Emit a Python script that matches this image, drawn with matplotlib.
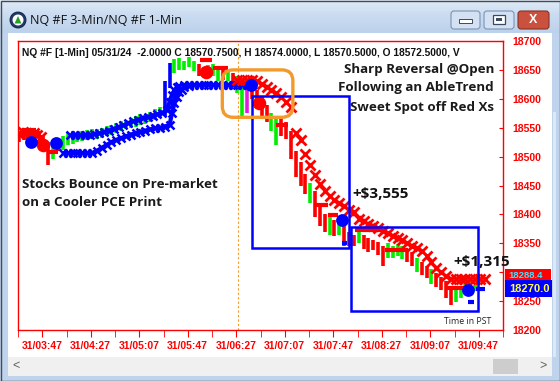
import matplotlib
matplotlib.use("Agg")
import matplotlib.pyplot as plt
import numpy as np
from matplotlib.patches import Rectangle, FancyBboxPatch, Circle, Polygon
from matplotlib.colors import LinearSegmentedColormap

plt.rcParams['font.family'] = ['Liberation Sans', 'DejaVu Sans']

# ---------------- data (minutes after midnight, prices) ----------------
bar_time = list(range(208, 588, 4))
bar_high = [18540, 18545, 18542, 18540, 18545, 18538, 18525, 18520, 18530,
            18535, 18540, 18545, 18542, 18545, 18546, 18547, 18548, 18550, 18553,
            18555, 18558, 18561, 18564, 18567, 18570, 18573, 18572, 18578, 18582,
            18586, 18630, 18662, 18668, 18670, 18665, 18672, 18665, 18660, 18655,
            18658, 18660, 18655, 18650, 18648, 18645, 18640, 18625, 18620, 18625,
            18615, 18605, 18590, 18575, 18570, 18570, 18560, 18545, 18510, 18490,
            18470, 18455, 18440, 18420, 18400, 18395, 18390, 18392, 18385, 18370,
            18365, 18375, 18365, 18360, 18355, 18352, 18345, 18350, 18345, 18348,
            18345, 18340, 18335, 18325, 18318, 18310, 18305, 18298, 18292, 18285,
            18275, 18270, 18272, 18280, 18282, 18278]
bar_low = [18525, 18528, 18520, 18525, 18530, 18510, 18485, 18495, 18510,
           18512, 18520, 18522, 18525, 18527, 18528, 18530, 18531, 18533, 18535,
           18538, 18541, 18544, 18547, 18550, 18552, 18555, 18557, 18560, 18563,
           18567, 18570, 18618, 18645, 18650, 18650, 18655, 18648, 18640, 18638,
           18642, 18640, 18630, 18632, 18630, 18628, 18610, 18570, 18575, 18600,
           18585, 18565, 18560, 18545, 18520, 18535, 18530, 18495, 18465, 18450,
           18435, 18420, 18395, 18380, 18370, 18365, 18362, 18365, 18345, 18345,
           18345, 18350, 18340, 18335, 18338, 18330, 18310, 18325, 18325, 18328,
           18322, 18318, 18310, 18300, 18295, 18290, 18280, 18275, 18270, 18255,
           18243, 18248, 18255, 18262, 18265, 18268]
bar_code = ['r', 'r', 'g', 'r', 'r', 'r', 'r', 'g', 'r',
            'g', 'g', 'g', 'g', 'g', 'g', 'g', 'g', 'g', 'g',
            'g', 'g', 'g', 'g', 'g', 'g', 'g', 'g', 'g', 'g',
            'g', 'b', 'b', 'g', 'g', 'g', 'g', 'g', 'r', 'r',
            'g', 'g', 'g', 'r', 'g', 'r', 'g', 'g', 'm', 'r',
            'r', 'r', 'r', 'g', 'g', 'r', 'r', 'r', 'r', 'r',
            'r', 'g', 'r', 'r', 'r', 'g', 'r', 'g', 'r', 'r',
            'r', 'g', 'r', 'r', 'r', 'r', 'r', 'g', 'g', 'g',
            'g', 'r', 'r', 'g', 'r', 'r', 'g', 'r', 'r', 'r',
            'r', 'g', 'g', 'g', 'r', 'g']

# AbleTrend blue stops (uptrend)
blue_a_time = [250, 254, 258, 262, 266, 270, 274, 278, 282, 286, 290, 294, 298,
               302, 306, 310, 314, 318, 322, 326, 330, 332, 334, 336, 338, 340]
blue_a_price = [18537, 18537, 18537, 18537, 18537, 18539, 18540, 18543, 18545,
                18548, 18551, 18554, 18558, 18561, 18564, 18567, 18569, 18571,
                18573, 18576, 18580, 18595, 18607, 18615, 18620, 18623]
blue_b_time = [244, 248, 252, 256, 260, 264, 268, 272, 276, 280, 284, 288, 292,
               296, 300, 304, 308, 312, 316, 320, 324, 328, 332, 334, 336, 338,
               340, 342, 344, 348]
blue_b_price = [18506, 18506, 18506, 18506, 18506, 18506, 18506, 18510, 18515,
                18520, 18525, 18529, 18532, 18535, 18538, 18541, 18543, 18545,
                18547, 18549, 18550, 18552, 18555, 18575, 18592, 18603, 18611,
                18616, 18620, 18622]
blue_flat_time = [344, 348, 352, 356, 360, 364, 368, 372, 376, 380, 384, 388,
                  392, 396, 400]
blue_flat_price = [18624, 18624, 18624, 18624, 18624, 18624, 18624, 18624,
                   18624, 18624, 18624, 18624, 18624, 18624, 18624]

# AbleTrend red stops (downtrend)
red_a_time = [208, 211, 214, 217, 220, 223, 226]
red_a_price = [18540, 18543, 18541, 18539, 18541, 18538, 18534]
red_b_time = [388, 392, 396, 400, 404, 408, 412, 416, 420, 424, 428, 432]
red_b_price = [18633, 18633, 18633, 18632, 18630, 18626, 18621, 18616, 18610,
               18603, 18595, 18585]
red_c_time = [436, 440, 444, 448, 452, 456, 460, 464, 468, 472, 476, 480, 484,
              488, 492, 496, 500, 504, 508, 512, 516, 520, 524, 528, 532, 536,
              540, 544, 548, 552, 556, 560, 564, 568, 572, 576, 580, 584, 588, 592]
red_c_price = [18540, 18529, 18505, 18485, 18468, 18452, 18440, 18432, 18425,
               18420, 18414, 18408, 18404, 18392, 18388, 18384, 18380, 18377,
               18372, 18367, 18363, 18360, 18356, 18351, 18346, 18342, 18336,
               18328, 18318, 18308, 18300, 18293, 18289, 18288, 18288, 18288,
               18288, 18288, 18288, 18288]

# red dash stop segments: start, end, price
red_dash_start = [212, 232, 357, 368, 420, 452, 463, 485, 510, 560]
red_dash_end = [222, 240, 367, 380, 430, 463, 471, 507, 529, 575]
red_dash_price = [18546, 18508, 18667, 18653, 18555, 18416, 18399, 18373, 18338, 18272]

red_dot_time = [228, 362, 406]
red_dot_price = [18520, 18646, 18593]
blue_dot_time = [218, 238, 399.5, 474, 578]
blue_dot_price = [18525, 18523, 18624, 18390, 18269]
blue_dash_start = [474, 578, 585]
blue_dash_end = [478, 583, 592]
blue_dash_price = [18350, 18248, 18271]

# trade boxes: (start, end, low, high)
box_start = [400, 482]
box_end = [479.7, 586]
box_low = [18342, 18233]
box_high = [18605, 18378]
box_labels = ['+$3,555', '+$1,315']

focus_start, focus_end, focus_low, focus_high = 375.5, 433.7, 18568, 18650
open_time = 388.6

x_labels = ['31/03:47', '31/04:27', '31/05:07', '31/05:47', '31/06:27',
            '31/07:07', '31/07:47', '31/08:27', '31/09:07', '31/09:47']
y_ticks = [18200, 18250, 18300, 18350, 18400, 18450, 18500, 18550, 18600, 18650, 18700]
y_hidden = [18300]   # label covered by the last-price markers

# ---------------- figure / window chrome ----------------
W, H = 560, 381
fig = plt.figure(figsize=(5.6, 3.81), dpi=100)
fig.patch.set_facecolor('#bfd3ec')

bg = fig.add_axes([0, 0, 1, 1])
bg.set_xlim(0, W); bg.set_ylim(H, 0); bg.axis('off')
cm = LinearSegmentedColormap.from_list('tb', ['#dfeaf7', '#c9dbf0', '#bcd1eb'])
bg.imshow(np.linspace(0, 1, 40).reshape(-1, 1), extent=[0, W, 33, 0],
          cmap=cm, aspect='auto', zorder=0)
bg.add_patch(Rectangle((8, 33), 544, 324, fc='white', ec='none', zorder=1))
bg.add_patch(Rectangle((8, 357), 544, 19, fc='#f0f0f0', ec='none', zorder=1))
bg.add_patch(Rectangle((493, 359), 25, 15, fc='#cdcdcd', ec='none', zorder=2))
bg.add_patch(Rectangle((553, 112), 3, 245, fc='#dde8f5', ec='none', zorder=1))
bg.text(16, 366, '<', ha='center', va='center', fontsize=9, color='#606060', zorder=3)
bg.text(543, 366, '>', ha='center', va='center', fontsize=9, color='#606060', zorder=3)
bg.add_patch(Rectangle((0.5, 0.5), W - 1, H - 1, fc='none', ec='#4a4a4a', lw=1, zorder=4))
# title bar
bg.add_patch(Circle((18, 20), 8, fc='#1e3a6b', ec='#0e1e3a', lw=0.6, zorder=3))
bg.add_patch(Circle((18, 20), 5.5, fc='white', ec='none', zorder=4))
bg.add_patch(Polygon([[14.5, 23.5], [21.5, 23.5], [18, 16]], fc='#2aa02a', ec='none', zorder=5))
bg.text(30, 20, 'NQ #F 3-Min/NQ #F 1-Min', va='center', ha='left', fontsize=9,
        family=['Open Sans', 'DejaVu Sans'], color='#101010', zorder=3)
for x0, x1 in [(451, 480), (484, 514)]:
    bg.add_patch(FancyBboxPatch((x0, 11), x1 - x0, 18, boxstyle='round,pad=0,rounding_size=3',
                                fc='#d3e1f2', ec='#7b93b4', lw=0.8, zorder=3))
bg.add_patch(Rectangle((459, 19), 13, 4, fc='white', ec='#3b4a60', lw=0.7, zorder=4))
bg.add_patch(Rectangle((493, 15), 12, 9, fc='white', ec='#3b4a60', lw=0.9, zorder=4))
bg.add_patch(Rectangle((496, 18), 6, 3, fc='#3b4a60', ec='none', zorder=5))
bg.add_patch(FancyBboxPatch((518, 11), 31, 18, boxstyle='round,pad=0,rounding_size=3',
                            fc='#c9513e', ec='#8a3024', lw=0.8, zorder=3))
bg.text(533.5, 20, 'X', ha='center', va='center', fontsize=9, weight='bold',
        color='white', zorder=4)

# ---------------- chart axes ----------------
ax = fig.add_axes([18 / W, 1 - 330 / H, 485 / W, 289 / H])
ax.set_xlim(207, 605)
ax.set_ylim(18200, 18700)
ax.set_facecolor('white')
for s in ax.spines.values():
    s.set_color('red'); s.set_linewidth(1)

cmap_codes = {'r': '#ff0000', 'g': '#00ee00', 'b': '#0000ff', 'm': '#e020e0'}
ax.vlines(bar_time, bar_low, bar_high, colors=[cmap_codes[c] for c in bar_code],
          linewidth=2.6, zorder=2)

# blue stops
for tt, pp in [(blue_a_time, blue_a_price), (blue_b_time, blue_b_price),
               (blue_flat_time, blue_flat_price)]:
    ax.plot(tt, pp, color='#0000ff', lw=3, zorder=3, solid_capstyle='butt')
    ax.plot(tt, pp, ls='none', marker='x', ms=6.2, mew=1.8, color='#0000ff', zorder=3)
# red stops
for tt, pp in [(red_a_time, red_a_price), (red_b_time, red_b_price),
               (red_c_time, red_c_price)]:
    ax.plot(tt, pp, ls='none', marker='x', ms=7.2, mew=2.0, color='#ff0000', zorder=3)

ax.hlines(red_dash_price, red_dash_start, red_dash_end, colors='#ff0000', lw=3, zorder=3)
ax.hlines(blue_dash_price, blue_dash_start, blue_dash_end, colors='#0000ff', lw=3, zorder=4)
ax.scatter(red_dot_time, red_dot_price, s=95, color='#ff0000', zorder=4, linewidths=0)
ax.scatter(blue_dot_time, blue_dot_price, s=85, color='#0000ff', zorder=5, linewidths=0)

# trade boxes
for b0, b1, lo, hi in zip(box_start, box_end, box_low, box_high):
    ax.add_patch(Rectangle((b0, lo), b1 - b0, hi - lo, fill=False, ec='#0000ff', lw=1.8, zorder=6))
# focus rounded box
ppm = (485 / (605 - 207)) / (289 / 500)
ax.add_patch(FancyBboxPatch((focus_start, focus_low), focus_end - focus_start,
                            focus_high - focus_low,
                            boxstyle='round,pad=0,rounding_size=9', mutation_aspect=ppm,
                            fc='none', ec='#f39a2b', lw=2.4, zorder=6))
ax.axvline(open_time, color='#f39a2b', lw=0.8, ls=(0, (2, 2)), zorder=1)

# ticks
ax.yaxis.tick_right()
ax.set_yticks(y_ticks)
ax.set_yticklabels(['' if v in y_hidden else str(v) for v in y_ticks])
def to_min(lbl):
    h, m = lbl.split('/')[1].split(':')
    return int(h) * 60 + int(m)
xt = [to_min(l) for l in x_labels]
ax.set_xticks(xt)
ax.set_xticklabels(x_labels)
ax.set_xticks([v - 20 for v in xt] + [xt[-1] + 20], minor=True)
ax.tick_params(axis='y', which='both', direction='in', length=3, color='red',
               labelcolor='red', labelsize=7.5, pad=7, right=True, left=False)
ax.tick_params(axis='x', which='both', direction='out', length=5, color='red',
               labelcolor='red', labelsize=7.5, pad=3)
for lbl in ax.get_xticklabels() + ax.get_yticklabels():
    lbl.set_fontweight('bold')

# ---------------- overlay texts ----------------
ov = fig.add_axes([0, 0, 1, 1])
ov.set_xlim(0, W); ov.set_ylim(H, 0); ov.axis('off'); ov.patch.set_alpha(0)
ann = ['Open Sans', 'DejaVu Sans']
ov.text(22, 53, 'NQ #F [1-Min] 05/31/24  -2.0000 C 18570.7500, H 18574.0000, L 18570.5000, O 18572.5000, V',
        ha='left', va='center', fontsize=7.4, weight='bold', color='#111111')
for i, s in enumerate(['Sharp Reversal @Open', 'Following an AbleTrend', 'Sweet Spot off Red Xs']):
    ov.text(494, 69 + 19 * i, s, ha='right', va='center', fontsize=9.6, weight='bold',
            family=ann, color='#1a1a1a')
for i, s in enumerate(['Stocks Bounce on Pre-market', 'on a Cooler PCE Print']):
    ov.text(22, 185 + 18 * i, s, ha='left', va='center', fontsize=9.6, weight='bold',
            family=ann, color='#1a1a1a')
ov.text(352, 194, box_labels[0], ha='left', va='center', fontsize=11, weight='bold',
        family=ann, color='#111111')
ov.text(453, 262, box_labels[1], ha='left', va='center', fontsize=11, weight='bold',
        family=ann, color='#111111')
ov.text(444, 322, 'Time in PST', ha='left', va='center', fontsize=6.3, family=ann, color='#222222')

# last price markers
ov.add_patch(Rectangle((505, 269), 46, 12, fc='#ff0000', ec='none'))
ov.text(508, 275, '18288.4', ha='left', va='center', fontsize=6.8, weight='bold', color='#40e0ff')
ov.add_patch(Rectangle((505, 280), 47, 17, fc='#0000ff', ec='none'))
ov.text(509, 289, '18270.0', ha='left', va='center', fontsize=8, weight='bold', color='#ffff40')

fig.savefig('out.png', dpi=100, facecolor=fig.get_facecolor())
